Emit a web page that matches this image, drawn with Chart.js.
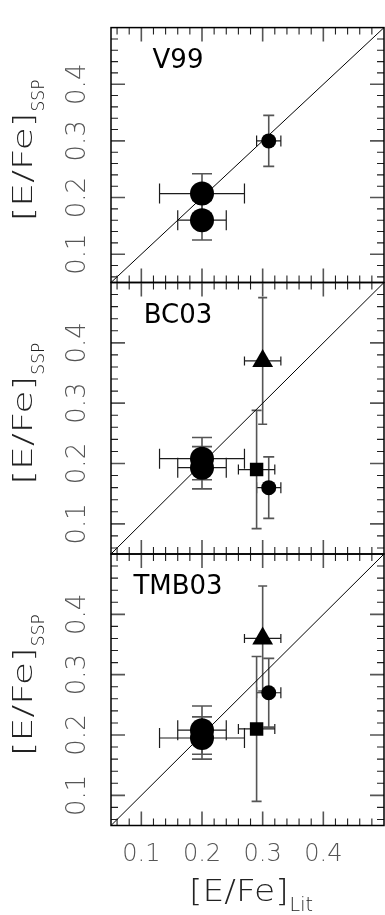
<!DOCTYPE html>
<html>
<head>
<meta charset="utf-8">
<script src="https://cdn.jsdelivr.net/npm/chart.js@4.4.1/dist/chart.umd.min.js"></script>
<style>
  html, body { margin: 0; padding: 0; background: #fff; }
  #wrap { position: relative; width: 385px; height: 915px; }
  #wrap canvas { position: absolute; left: 0; top: 0; }
</style>
</head>
<body>
<div id="wrap">
  <canvas id="pV99" width="385" height="915"></canvas>
  <canvas id="pBC03" width="385" height="915"></canvas>
  <canvas id="pTMB03" width="385" height="915"></canvas>
</div>
<script>
// ---- data -------------------------------------------------------------
// objects compared in every panel
const OBJECTS = ['A', 'B', 'C', 'D', 'E'];
// literature [E/Fe] and its uncertainty
const EFE_LIT     = [0.20, 0.20, 0.31, 0.30, 0.29];
const EFE_LIT_ERR = [0.07, 0.04, 0.02, 0.03, 0.03];
// [E/Fe] derived from each SSP model set (null = not available)
const V99_SSP       = [0.207, 0.160, 0.300, null, null];
const V99_SSP_ERR   = [0.035, 0.035, 0.045, null, null];
const BC03_SSP      = [0.208, 0.193, 0.160, 0.370, 0.190];
const BC03_SSP_ERR  = [0.035, 0.035, 0.051, 0.105, 0.098];
const TMB03_SSP     = [0.195, 0.208, 0.270, 0.360, 0.210];
const TMB03_SSP_ERR = [0.035, 0.040, 0.057, 0.087, 0.120];
// one-to-one relation
const ONE_TO_ONE = [0.05, 0.50];
// axis ticks
const AXIS_RANGE  = [0.05, 0.50];
const MAJOR_TICKS = [0.1, 0.2, 0.3, 0.4];
const MINOR_TICKS = [0.06, 0.08, 0.12, 0.14, 0.16, 0.18, 0.22, 0.24, 0.26, 0.28,
                     0.32, 0.34, 0.36, 0.38, 0.42, 0.44, 0.46, 0.48];

// ---- styling ----------------------------------------------------------
const MARK = {
  A: { shape: 'circle',   r: 12,  cap: 10 },
  B: { shape: 'circle',   r: 12,  cap: 10 },
  C: { shape: 'circle',   r: 7.5, cap: 5.5 },
  D: { shape: 'triangle', r: 12,  cap: 4.5 },
  E: { shape: 'rect',     r: 9.5, cap: 5 }
};
const FONT = "'DejaVu Sans', 'Liberation Sans', sans-serif";
const LEFT = 111, RIGHT = 384;
const PANEL_EDGES = [11, 282.5, 554, 825.5];
const H = 915;

// text squeezed or stretched horizontally, drawn from (x, y) baseline-left
function wideText(ctx, text, x, y, size, sx, weight) {
  ctx.save();
  ctx.font = (weight || 400) + ' ' + size + 'px ' + FONT;
  ctx.translate(x, y);
  ctx.scale(sx, 1);
  ctx.textAlign = 'left';
  ctx.textBaseline = 'alphabetic';
  ctx.fillText(text, 0, 0);
  ctx.restore();
}
function textWidth(ctx, text, size, sx, weight) {
  ctx.save();
  ctx.font = (weight || 400) + ' ' + size + 'px ' + FONT;
  const w = ctx.measureText(text).width * sx;
  ctx.restore();
  return w;
}

function makePanel(id, name, ssp, err, idx, showX) {
  const top = PANEL_EDGES[idx], bottom = PANEL_EDGES[idx + 1];
  const points = OBJECTS.map((o, i) => ({ x: EFE_LIT[i], y: ssp[i], obj: o, i }))
                        .filter(d => d.y !== null);

  const errorBars = {
    id: 'errorBars',
    beforeDatasetsDraw(chart) {
      const { ctx, scales: { x, y } } = chart;
      ctx.save();
      points.forEach(d => {
        const i = d.i, c = MARK[d.obj].cap;
        const px = x.getPixelForValue(d.x), py = y.getPixelForValue(d.y);
        const x0 = x.getPixelForValue(d.x - EFE_LIT_ERR[i]);
        const x1 = x.getPixelForValue(d.x + EFE_LIT_ERR[i]);
        const y0 = y.getPixelForValue(d.y - err[i]);
        const y1 = y.getPixelForValue(d.y + err[i]);
        // horizontal bar
        ctx.strokeStyle = '#1c1c1c'; ctx.lineWidth = 1.2;
        ctx.beginPath();
        ctx.moveTo(x0, py); ctx.lineTo(x1, py);
        ctx.moveTo(x0, py - c); ctx.lineTo(x0, py + c);
        ctx.moveTo(x1, py - c); ctx.lineTo(x1, py + c);
        ctx.stroke();
        // vertical bar
        ctx.strokeStyle = '#555'; ctx.lineWidth = 1.6;
        ctx.beginPath();
        ctx.moveTo(px, y0); ctx.lineTo(px, y1);
        ctx.moveTo(px - c, y0); ctx.lineTo(px + c, y0);
        ctx.moveTo(px - c, y1); ctx.lineTo(px + c, y1);
        ctx.stroke();
      });
      ctx.restore();
    }
  };

  const frame = {
    id: 'frame',
    afterDraw(chart) {
      const { ctx, chartArea: a, scales: { x, y } } = chart;
      ctx.save();
      const drawTicks = (vals, len, color, lw) => {
        ctx.strokeStyle = color; ctx.lineWidth = lw;
        ctx.beginPath();
        vals.forEach(v => {
          const px = x.getPixelForValue(v), py = y.getPixelForValue(v);
          ctx.moveTo(px, a.top); ctx.lineTo(px, a.top + len);
          ctx.moveTo(px, a.bottom); ctx.lineTo(px, a.bottom - len);
          ctx.moveTo(a.left, py); ctx.lineTo(a.left + len, py);
          ctx.moveTo(a.right, py); ctx.lineTo(a.right - len, py);
        });
        ctx.stroke();
      };
      drawTicks(MINOR_TICKS, 7, '#222', 1.1);
      drawTicks(MAJOR_TICKS, 14, '#555', 1.6);
      ctx.strokeStyle = '#000'; ctx.lineWidth = 1.5;
      ctx.strokeRect(a.left, a.top, a.right - a.left, a.bottom - a.top);

      // model label
      ctx.fillStyle = '#000';
      ctx.font = '26px ' + FONT;
      ctx.textAlign = 'center';
      ctx.textBaseline = 'alphabetic';
      ctx.fillText(name, 178, a.top + 40);

      // y title [E/Fe]_SSP, reading upwards
      ctx.fillStyle = '#222';
      const mainW = textWidth(ctx, '[E/Fe]', 27, 1.4, 200);
      const subW = textWidth(ctx, 'SSP', 17, 1.0, 200);
      const cy = (a.top + a.bottom) / 2 - 4;
      ctx.save();
      ctx.translate(32, cy + (mainW + subW) / 2);
      ctx.rotate(-Math.PI / 2);
      wideText(ctx, '[E/Fe]', 0, 0, 27, 1.4, 200);
      wideText(ctx, 'SSP', mainW + 1, 12, 17, 1.0, 200);
      ctx.restore();

      if (showX) {
        const mW = textWidth(ctx, '[E/Fe]', 30, 1.15, 200);
        const sW = textWidth(ctx, 'Lit', 20, 0.95, 200);
        const x0 = (a.left + a.right) / 2 + 3 - (mW + sW) / 2;
        wideText(ctx, '[E/Fe]', x0, 901, 30, 1.15, 200);
        wideText(ctx, 'Lit', x0 + mW + 1, 911, 20, 0.95, 200);
      }
      ctx.restore();
    }
  };

  const tickFont = size => ({ family: FONT, size, weight: 200 });
  const setTicks = s => { s.ticks = MAJOR_TICKS.map(v => ({ value: v })); };

  return new Chart(document.getElementById(id), {
    type: 'scatter',
    data: {
      datasets: [
        {
          type: 'line',
          data: ONE_TO_ONE.map(v => ({ x: v, y: v })),
          borderColor: '#000', borderWidth: 1, pointRadius: 0, order: 2
        },
        {
          type: 'scatter',
          data: points,
          backgroundColor: '#000', borderWidth: 0,
          pointStyle: c => MARK[c.raw.obj].shape,
          pointRadius: c => MARK[c.raw.obj].r,
          order: 1
        }
      ]
    },
    options: {
      responsive: false,
      animation: false,
      events: [],
      layout: {
        autoPadding: false,
        padding: { top: top, bottom: showX ? 0 : H - bottom, left: 0, right: 385 - RIGHT }
      },
      plugins: { legend: { display: false }, tooltip: { enabled: false } },
      scales: {
        x: {
          type: 'linear', min: AXIS_RANGE[0], max: AXIS_RANGE[1],
          display: showX,
          grid: { display: false, drawTicks: false }, border: { display: false },
          afterBuildTicks: setTicks,
          afterFit: s => { s.height = showX ? H - PANEL_EDGES[3] : 0; },
          ticks: {
            color: '#555', font: tickFont(24), padding: 15, autoSkip: false,
            minRotation: 0, maxRotation: 0,
            callback: v => v.toFixed(1)
          }
        },
        y: {
          type: 'linear', min: AXIS_RANGE[0], max: AXIS_RANGE[1],
          grid: { display: false, drawTicks: false }, border: { display: false },
          afterBuildTicks: setTicks,
          afterFit: s => { s.width = LEFT; },
          ticks: {
            color: '#555', font: tickFont(26), padding: 12, autoSkip: false,
            minRotation: 90, maxRotation: 90, crossAlign: 'center',
            callback: v => v.toFixed(1)
          }
        }
      }
    },
    plugins: [errorBars, frame]
  });
}

makePanel('pV99',   'V99',   V99_SSP,   V99_SSP_ERR,   0, false);
makePanel('pBC03',  'BC03',  BC03_SSP,  BC03_SSP_ERR,  1, false);
makePanel('pTMB03', 'TMB03', TMB03_SSP, TMB03_SSP_ERR, 2, true);
</script>
</body>
</html>
